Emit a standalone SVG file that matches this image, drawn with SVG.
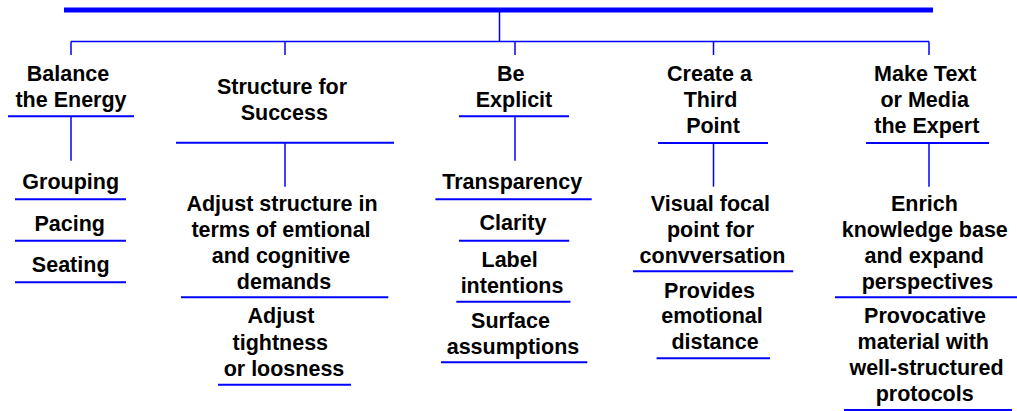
<svg xmlns="http://www.w3.org/2000/svg" width="1017" height="411" viewBox="0 0 1017 411">
<style>
text{font-family:"Liberation Sans",Arial,sans-serif;font-size:21.5px;font-weight:bold;fill:#000;text-anchor:middle}
.c{stroke:#0000ff;stroke-width:1.5;fill:none}
.u{stroke:#0000ff;stroke-width:2;fill:none}
.top{stroke:#0000ff;stroke-width:5;fill:none}
</style>
<rect width="1017" height="411" fill="#fff"/>
<g id="connectors">
<line class="top" x1="64" y1="10" x2="933" y2="10"/>
<line class="c" x1="499.5" y1="12" x2="499.5" y2="41.5"/>
<line class="c" x1="71" y1="41.5" x2="929" y2="41.5"/>
<line class="c" x1="71" y1="41.5" x2="71" y2="55"/>
<line class="c" x1="285" y1="41.5" x2="285" y2="55"/>
<line class="c" x1="515" y1="41.5" x2="515" y2="55"/>
<line class="c" x1="713.5" y1="41.5" x2="713.5" y2="55"/>
<line class="c" x1="929" y1="41.5" x2="929" y2="55"/>
<line class="c" x1="71" y1="117" x2="71" y2="160.7"/>
<line class="c" x1="285" y1="143" x2="285" y2="186.7"/>
<line class="c" x1="515" y1="117" x2="515" y2="160.7"/>
<line class="c" x1="713.5" y1="143" x2="713.5" y2="186.7"/>
<line class="c" x1="929" y1="143" x2="929" y2="186.7"/>
</g>
<g id="h1"><text x="68" y="81">Balance</text><text x="71" y="107">the Energy</text><line class="u" x1="8" y1="116.3" x2="134" y2="116.3"/></g>
<g id="h2"><text x="282" y="93.5">Structure for</text><text x="284.3" y="120">Success</text><line class="u" x1="176" y1="142.7" x2="394" y2="142.7"/></g>
<g id="h3"><text x="510.7" y="81">Be</text><text x="514" y="107">Explicit</text><line class="u" x1="459" y1="116.3" x2="569" y2="116.3"/></g>
<g id="h4"><text x="709.5" y="81">Create a</text><text x="710.5" y="107">Third</text><text x="713" y="133">Point</text><line class="u" x1="658" y1="143" x2="768" y2="143"/></g>
<g id="h5"><text x="925.3" y="81">Make Text</text><text x="924.7" y="107">or Media</text><text x="926.8" y="133">the Expert</text><line class="u" x1="866" y1="143" x2="989" y2="143"/></g>

<g id="n1a"><text x="70.7" y="189">Grouping</text><line class="u" x1="15" y1="199.3" x2="126" y2="199.3"/></g>
<g id="n1b"><text x="69.7" y="230.7">Pacing</text><line class="u" x1="15" y1="240.7" x2="126" y2="240.7"/></g>
<g id="n1c"><text x="70.7" y="272.3">Seating</text><line class="u" x1="15" y1="282.3" x2="126" y2="282.3"/></g>

<g id="n2a"><text x="282" y="211">Adjust structure in</text><text x="281" y="237">terms of emtional</text><text x="281" y="263">and cognitive</text><text x="284" y="289">demands</text><line class="u" x1="181" y1="297.3" x2="388.3" y2="297.3"/></g>
<g id="n2b"><text x="281" y="323.3">Adjust</text><text x="280.3" y="349.5">tightness</text><text x="284" y="376">or loosness</text><line class="u" x1="218" y1="384.7" x2="351" y2="384.7"/></g>

<g id="n3a"><text x="512.2" y="189">Transparency</text><line class="u" x1="435.4" y1="199.3" x2="591.7" y2="199.3"/></g>
<g id="n3b"><text x="513" y="230">Clarity</text><line class="u" x1="459" y1="240.7" x2="569.2" y2="240.7"/></g>
<g id="n3c"><text x="509.6" y="267.3">Label</text><text x="512" y="293.3">intentions</text><line class="u" x1="456.3" y1="301.7" x2="570.4" y2="301.7"/></g>
<g id="n3d"><text x="510.5" y="328.3">Surface</text><text x="513" y="354">assumptions</text><line class="u" x1="441" y1="362.3" x2="587.3" y2="362.3"/></g>

<g id="n4a"><text x="710.4" y="211">Visual focal</text><text x="710.5" y="237">point for</text><text x="712.5" y="263">convversation</text><line class="u" x1="633" y1="271.3" x2="793.2" y2="271.3"/></g>
<g id="n4b"><text x="709.5" y="297.7">Provides</text><text x="712" y="323.3">emotional</text><text x="715" y="349.3">distance</text><line class="u" x1="656.6" y1="358.3" x2="770" y2="358.3"/></g>

<g id="n5a"><text x="924.4" y="211">Enrich</text><text x="924.8" y="237">knowledge base</text><text x="924.2" y="263">and expand</text><text x="927.4" y="289">perspectives</text><line class="u" x1="835" y1="297.3" x2="1017" y2="297.3"/></g>
<g id="n5b"><text x="925" y="323.3">Provocative</text><text x="923.3" y="349.3">material with</text><text x="926.5" y="375.3">well-structured</text><text x="924.7" y="401.3">protocols</text><line class="u" x1="844" y1="410" x2="1012" y2="410"/></g>
</svg>
